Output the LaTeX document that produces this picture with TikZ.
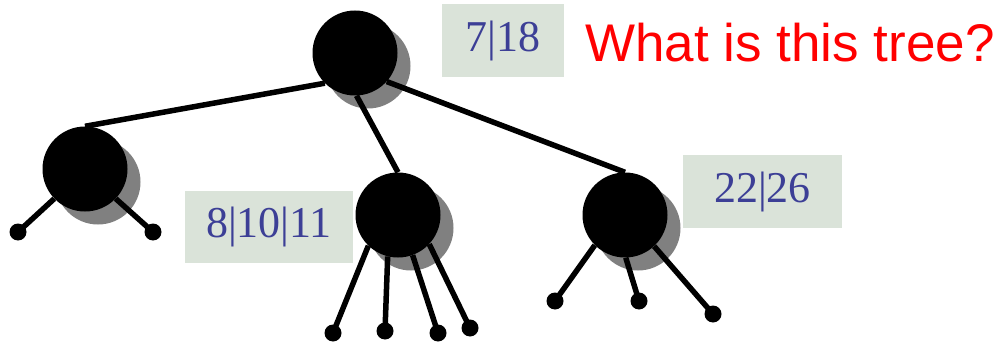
\documentclass[tikz,border=0pt]{standalone}
\usepackage{fontspec}
\setmainfont{Liberation Serif}
\newfontfamily\titlefont{Liberation Sans}
\pgfdeclarelayer{shadowlayer}
\pgfdeclarelayer{edgelayer}
\pgfsetlayers{shadowlayer,edgelayer,main}
\definecolor{boxfill}{HTML}{DAE3D9}
\definecolor{keyblue}{HTML}{3C3F96}
\definecolor{shadowgray}{HTML}{808080}
\begin{document}
\begin{tikzpicture}[x=1pt,y=-1pt,
  treenode/.style={circle,fill=black,minimum size=85pt,inner sep=0pt},
  leafnode/.style={circle,fill=black,minimum size=17pt,inner sep=0pt},
  keybox/.style={fill=boxfill,inner sep=0pt,text=keyblue,font=\fontsize{44}{44}\selectfont},
  edge/.style={line width=5.5pt,black},
  shadowfill/.style={fill=shadowgray}]
\useasboundingbox (0,0) rectangle (1004,342);
% tree nodes
\node[treenode] (root) at (355,53) {};
\node[treenode] (lc) at (85,169) {};
\node[treenode] (mc) at (398,215) {};
\node[treenode] (rc) at (625,215) {};
% leaves
\node[leafnode] (l1) at (18,232) {};
\node[leafnode] (l2) at (153,232) {};
\node[leafnode] (m1) at (333,333) {};
\node[leafnode] (m2) at (385,331) {};
\node[leafnode] (m3) at (438,333) {};
\node[leafnode] (m4) at (470,328) {};
\node[leafnode] (r1) at (555,301) {};
\node[leafnode] (r2) at (639,301) {};
\node[leafnode] (r3) at (713,314) {};
% shadows
\begin{pgfonlayer}{shadowlayer}
\foreach \n in {root,lc,mc,rc}
  \fill[shadowfill] ([xshift=13pt,yshift=-13pt]\n.center) circle (42.5pt);
\end{pgfonlayer}
% edges
\begin{pgfonlayer}{edgelayer}
\draw[edge] (root.225) -- (lc.north);
\draw[edge] (root.272) -- (mc.north);
\draw[edge] (root.318) -- (rc.north);
\draw[edge] (lc.224) -- (l1.center);
\draw[edge] (lc.316) -- (l2.center);
\draw[edge] (mc.226) -- (m1.center);
\draw[edge] (mc.256) -- (m2.center);
\draw[edge] (mc.290) -- (m3.center);
\draw[edge] (mc.317) -- (m4.center);
\draw[edge] (rc.225) -- (r1.center);
\draw[edge] (rc.271) -- (r2.center);
\draw[edge] (rc.313) -- (r3.center);
\end{pgfonlayer}
% key boxes
\node[keybox,minimum width=122pt,minimum height=73pt] (k1) at (503,40.5) {7|18};
\node[keybox,minimum width=168pt,minimum height=72pt] (k2) at (269,227) {8|10|11};
\node[keybox,minimum width=159pt,minimum height=73pt] (k3) at (762.5,191.5) {22|26};
% title
\node[text=red,font=\titlefont\fontsize{53}{53}\selectfont,anchor=base west,inner sep=0pt] (title) at (585,62) {What is this tree?};
\end{tikzpicture}
\end{document}
